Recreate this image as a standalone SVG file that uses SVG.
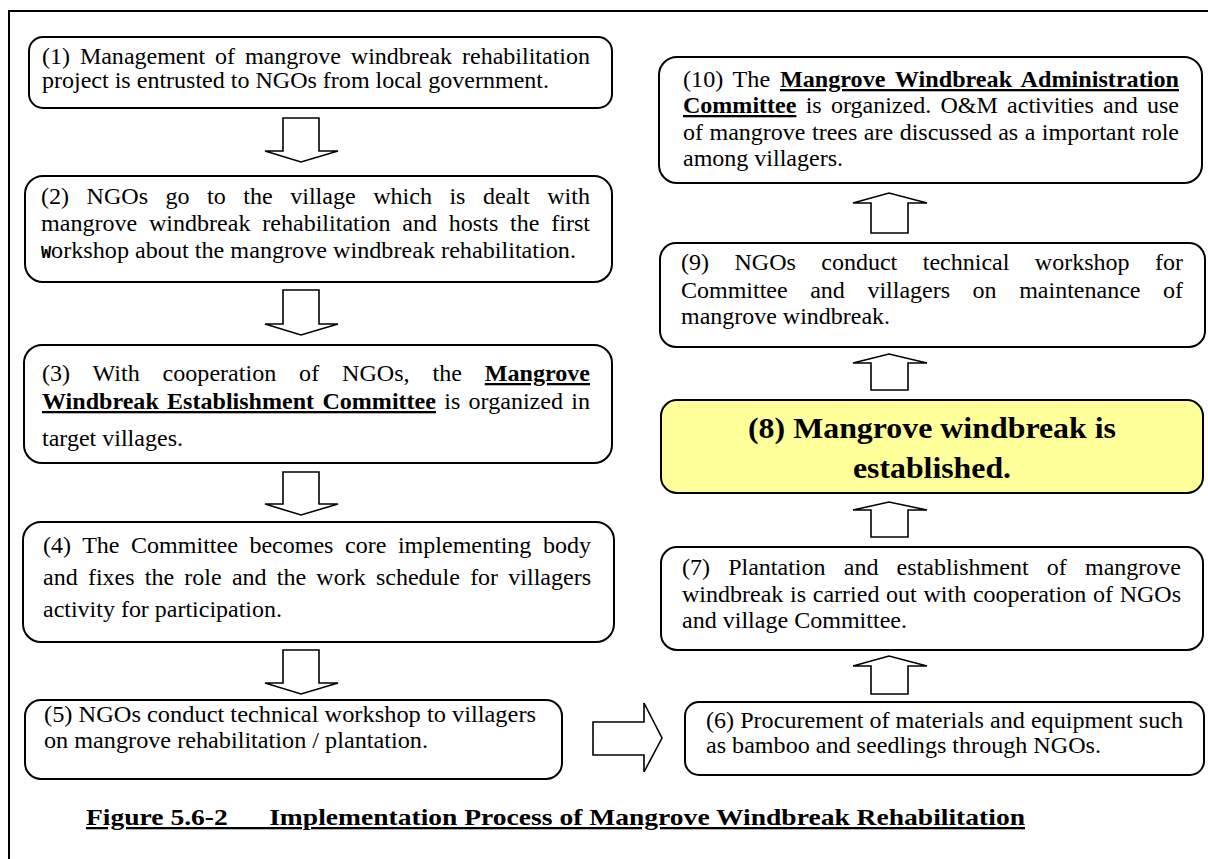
<svg xmlns="http://www.w3.org/2000/svg" width="1208" height="859" viewBox="0 0 1208 859">
<style>
.frame{fill:none;stroke:#000;stroke-width:2}
.box{fill:#fff;stroke:#000;stroke-width:2}
.hl{fill:#ffff99}
.arr{fill:#fff;stroke:#000;stroke-width:1.6;stroke-linejoin:miter}
text{font-family:"Liberation Serif","Tinos","Nimbus Roman","Nimbus Roman No9 L","FreeSerif","Times New Roman",Times,serif}
.t{font-size:23px;fill:#000}
.bu{font-weight:bold;text-decoration:underline}
.big{font-size:29px;font-weight:bold;fill:#000}
.cap{font-size:23px;font-weight:bold;text-decoration:underline;fill:#000;white-space:pre}
.mono{font-family:"DejaVu Sans Mono",monospace;font-size:16px;font-weight:bold}
</style>
<rect width="1208" height="859" fill="#fff"/>
<rect class="frame" x="9" y="11" width="1300" height="900"/>

<g id="connectors">
<polygon class="arr" points="283,118 319,118 319,151 338,151 301,162 265,151 283,151"/>
<polygon class="arr" points="283,290 319,290 319,324 338,324 301,335 265,324 283,324"/>
<polygon class="arr" points="283,472 319,472 319,504 338,504 301,515 265,504 283,504"/>
<polygon class="arr" points="283,650 319,650 319,683 338,683 301,694 265,683 283,683"/>
<polygon class="arr" points="593,722 644,722 644,703 662,738 644,772 644,755 593,755"/>
<polygon class="arr" points="871,694 908,694 908,666 927,666 889,656 853,666 871,666"/>
<polygon class="arr" points="871,537 908,537 908,510 927,510 889,502 853,510 871,510"/>
<polygon class="arr" points="871,390 908,390 908,363 927,363 889,354 853,363 871,363"/>
<polygon class="arr" points="871,233 908,233 908,203 927,203 889,193 853,203 871,203"/>
</g>

<g id="n1">
<rect class="box" x="29" y="37" width="583" height="71" rx="14"/>
<text class="t" x="42" y="64" word-spacing="3.73" textLength="548" lengthAdjust="spacingAndGlyphs">(1) Management of mangrove windbreak rehabilitation</text>
<text class="t" x="42" y="88" textLength="507" lengthAdjust="spacingAndGlyphs">project is entrusted to NGOs from local government.</text>
</g>

<g id="n2">
<rect class="box" x="25" y="176" width="587" height="106" rx="18"/>
<text class="t" x="41" y="204" word-spacing="11" textLength="549" lengthAdjust="spacingAndGlyphs">(2) NGOs go to the village which is dealt with</text>
<text class="t" x="41" y="231" word-spacing="5.54" textLength="549" lengthAdjust="spacingAndGlyphs">mangrove windbreak rehabilitation and hosts the first</text>
<text class="t" x="41" y="258" textLength="535" lengthAdjust="spacingAndGlyphs"><tspan class="mono">W</tspan>orkshop about the mangrove windbreak rehabilitation.</text>
</g>

<g id="n3">
<rect class="box" x="24" y="345" width="588" height="118" rx="18"/>
<text class="t" x="42" y="381" word-spacing="16.1" textLength="548" lengthAdjust="spacingAndGlyphs">(3) With cooperation of NGOs, the <tspan class="bu">Mangrove</tspan></text>
<text class="t" x="42" y="409" word-spacing="2.18" textLength="548" lengthAdjust="spacingAndGlyphs"><tspan class="bu">Windbreak Establishment Committee</tspan> is organized in</text>
<text class="t" x="42" y="446" textLength="141" lengthAdjust="spacingAndGlyphs">target villages.</text>
</g>

<g id="n4">
<rect class="box" x="23" y="522" width="591" height="120" rx="18"/>
<text class="t" x="43" y="553" word-spacing="5.33" textLength="548" lengthAdjust="spacingAndGlyphs">(4) The Committee becomes core implementing body</text>
<text class="t" x="43" y="585" word-spacing="4.06" textLength="548" lengthAdjust="spacingAndGlyphs">and fixes the role and the work schedule for villagers</text>
<text class="t" x="43" y="617" textLength="239" lengthAdjust="spacingAndGlyphs">activity for participation.</text>
</g>

<g id="n5">
<rect class="box" x="25" y="700" width="537" height="79" rx="16"/>
<text class="t" x="44" y="722" textLength="492" lengthAdjust="spacingAndGlyphs">(5) NGOs conduct technical workshop to villagers</text>
<text class="t" x="44" y="748" textLength="384" lengthAdjust="spacingAndGlyphs">on mangrove rehabilitation / plantation.</text>
</g>

<g id="n6">
<rect class="box" x="685" y="702" width="519" height="73" rx="14"/>
<text class="t" x="706" y="728" textLength="477" lengthAdjust="spacingAndGlyphs">(6) Procurement of materials and equipment such</text>
<text class="t" x="706" y="753" textLength="395" lengthAdjust="spacingAndGlyphs">as bamboo and seedlings through NGOs.</text>
</g>

<g id="n7">
<rect class="box" x="661" y="547" width="542" height="103" rx="16"/>
<text class="t" x="682" y="575" word-spacing="11.7" textLength="499" lengthAdjust="spacingAndGlyphs">(7) Plantation and establishment of mangrove</text>
<text class="t" x="682" y="602" word-spacing="0.7" textLength="499" lengthAdjust="spacingAndGlyphs">windbreak is carried out with cooperation of NGOs</text>
<text class="t" x="682" y="628" textLength="225" lengthAdjust="spacingAndGlyphs">and village Committee.</text>
</g>

<g id="n8">
<rect class="box hl" x="661" y="400" width="542" height="93" rx="16"/>
<text class="big" x="932" y="438" text-anchor="middle" textLength="368" lengthAdjust="spacingAndGlyphs">(8) Mangrove windbreak is</text>
<text class="big" x="932" y="478" text-anchor="middle" textLength="158" lengthAdjust="spacingAndGlyphs">established.</text>
</g>

<g id="n9">
<rect class="box" x="660" y="243" width="545" height="104" rx="16"/>
<text class="t" x="681" y="270" word-spacing="18.67" textLength="502" lengthAdjust="spacingAndGlyphs">(9) NGOs conduct technical workshop for</text>
<text class="t" x="681" y="298" word-spacing="15.85" textLength="502" lengthAdjust="spacingAndGlyphs">Committee and villagers on maintenance of</text>
<text class="t" x="681" y="324" textLength="209" lengthAdjust="spacingAndGlyphs">mangrove windbreak.</text>
</g>

<g id="n10">
<rect class="box" x="659" y="57" width="543" height="126" rx="18"/>
<text class="t" x="683" y="87" word-spacing="3.52" textLength="496" lengthAdjust="spacingAndGlyphs">(10) The <tspan class="bu">Mangrove Windbreak Administration</tspan></text>
<text class="t" x="683" y="113" word-spacing="3.1" textLength="496" lengthAdjust="spacingAndGlyphs"><tspan class="bu">Committee</tspan> is organized. O&amp;M activities and use</text>
<text class="t" x="683" y="140" word-spacing="0.49" textLength="496" lengthAdjust="spacingAndGlyphs">of mangrove trees are discussed as a important role</text>
<text class="t" x="683" y="166" textLength="160" lengthAdjust="spacingAndGlyphs">among villagers.</text>
</g>

<g id="caption">
<text class="cap" x="86" y="825" textLength="939" lengthAdjust="spacingAndGlyphs">Figure 5.6-2      Implementation Process of Mangrove Windbreak Rehabilitation</text>
</g>
</svg>
